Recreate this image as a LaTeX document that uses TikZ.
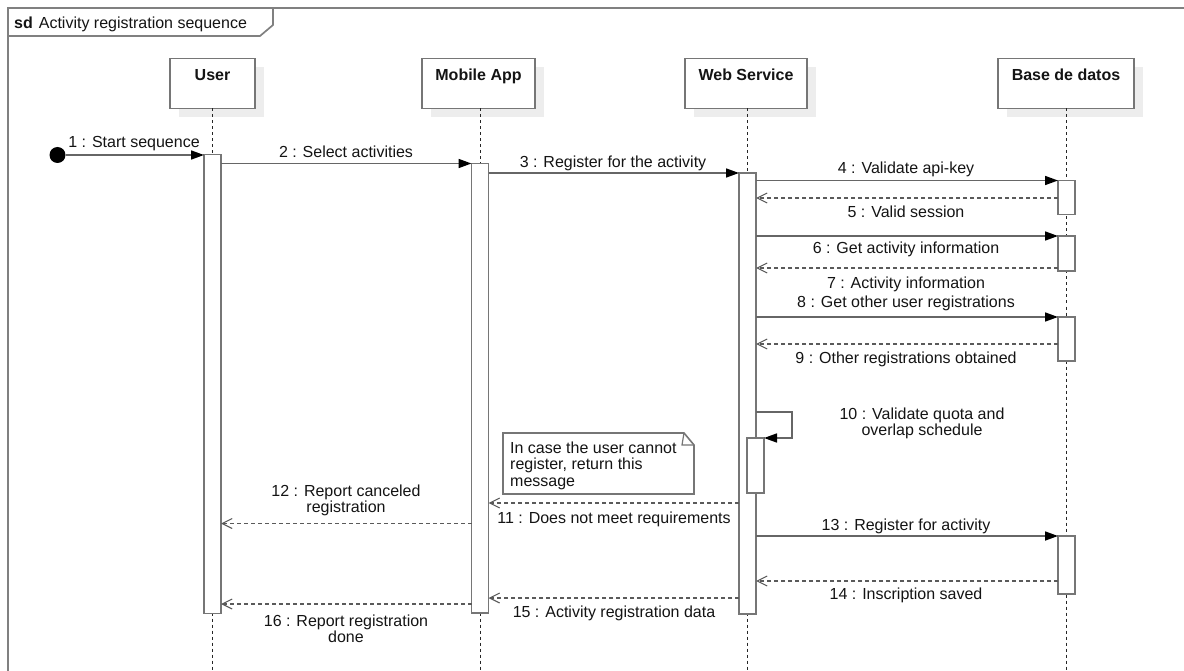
\documentclass[tikz,border=0pt]{standalone}
\usepackage{fontspec}
\setmainfont{Liberation Sans}
\usetikzlibrary{arrows.meta,shadows}
\definecolor{framegray}{HTML}{808080}
\definecolor{edgegray}{HTML}{767676}
\definecolor{wiregray}{HTML}{666666}
\definecolor{dashgray}{HTML}{5A5A5A}
\definecolor{ink}{HTML}{141414}
\definecolor{shade}{HTML}{EDEDED}
\newcommand{\lblfont}{\fontsize{16}{16.5}\selectfont}

\begin{document}
\begin{tikzpicture}[x=1pt,y=-1pt,
  head/.style={draw=edgegray, line width=1.9pt, fill=white, inner xsep=0pt, inner ysep=0pt,
    outer sep=0pt, text height=22.25pt, text depth=27.75pt, font=\lblfont\bfseries, text=ink,
    general shadow={fill=shade, draw=none, shadow xshift=9pt, shadow yshift=-9pt}},
  lifeline/.style={draw=black!85, line width=1pt, dash pattern=on 3pt off 3pt},
  act/.style={draw=edgegray, line width=1.9pt, fill=white, minimum width=17pt, inner sep=0pt,
    outer sep=0pt, anchor=north},
  call/.style={draw=wiregray, line width=1.7pt, -{Triangle[length=13pt,width=9pt,color=black]}},
  reply/.style={draw=dashgray, line width=1.5pt, dash pattern=on 4pt off 3pt,
    -{Straight Barb[length=10pt,width=10pt,line width=1.1pt]}},
  lbl/.style={anchor=north, inner sep=0pt, align=center, font=\lblfont, text=ink},
]
\useasboundingbox (0,0) rectangle (1184,671);
\fill[white] (0,0) rectangle (1184,671);

% diagram frame with its name tab
\draw[framegray, line width=2pt] (1184,8) -- (8,8) -- (8,671);
\draw[framegray, line width=1.7pt] (8,36) -- (260,36) -- (273,25) -- (273,8);
\node[anchor=north west, inner sep=0pt, font=\lblfont, text=ink] (title) at (14,17)
  {\textbf{sd}\hspace{6pt}Activity registration sequence};

% participants
\node[head, minimum width=85pt]  (user) at (212.5,83.5) {User};
\node[head, minimum width=113pt] (app)  at (478.5,83.5) {Mobile App};
\node[head, minimum width=122pt] (ws)   at (746,83.5)   {Web Service};
\node[head, minimum width=136pt] (db)   at (1066,83.5)  {Base de datos};

% lifelines
\draw[lifeline] (212.5,108.5) -- (212.5,671);
\draw[lifeline] (480,108.5) -- (480,671);
\draw[lifeline] (747.5,108.5) -- (747.5,671);
\draw[lifeline] (1066.5,108.5) -- (1066.5,671);

% activation bars
\node[act, minimum height=459pt]   (uAct)  at (212.5,154.5) {};
\node[act, minimum height=449.5pt] (mAct)  at (480,163.5) {};
\node[act, minimum height=441pt]   (wAct)  at (747.5,173) {};
\node[act, minimum height=55pt]    (wAct2) at (755.5,438) {};
\node[act, minimum height=34pt]    (dAct1) at (1066.5,180.5) {};
\node[act, minimum height=35pt]    (dAct2) at (1066.5,236) {};
\node[act, minimum height=44pt]    (dAct3) at (1066.5,317) {};
\node[act, minimum height=58pt]    (dAct4) at (1066.5,536) {};

% initial message
\node[circle, fill=black, minimum size=16pt, inner sep=0pt] (start) at (57.5,155) {};

% messages
\draw[call]  (start) -- (uAct.west |- start);
\draw[call]  (uAct.east |- 0,163.5) -- (mAct.west |- 0,163.5);
\draw[call]  (mAct.east |- 0,173) -- (wAct.west |- 0,173);
\draw[call]  (wAct.east |- dAct1.north) -- (dAct1.north west);
\draw[reply] (dAct1.west |- 0,198) -- (wAct.east |- 0,198);
\draw[call]  (wAct.east |- dAct2.north) -- (dAct2.north west);
\draw[reply] (dAct2.west |- 0,268) -- (wAct.east |- 0,268);
\draw[call]  (wAct.east |- dAct3.north) -- (dAct3.north west);
\draw[reply] (dAct3.west |- 0,344) -- (wAct.east |- 0,344);
\draw[call]  (wAct.east |- 0,412) -- ++(36,0) |- (wAct2.north east);
\draw[reply] (wAct.west |- 0,503) -- (mAct.east |- 0,503);
\draw[reply] (mAct.west |- 0,523.5) -- (uAct.east |- 0,523.5);
\draw[call]  (wAct.east |- dAct4.north) -- (dAct4.north west);
\draw[reply] (dAct4.west |- 0,581) -- (wAct.east |- 0,581);
\draw[reply] (wAct.west |- 0,598) -- (mAct.east |- 0,598);
\draw[reply] (mAct.west |- 0,604) -- (uAct.east |- 0,604);

% message labels
\node[lbl] (m1)  at (134,136.25) {1 : Start sequence};
\node[lbl] (m2)  at (346,145.25) {2 : Select activities};
\node[lbl] (m3)  at (613,155.25) {3 : Register for the activity};
\node[lbl] (m4)  at (906,161.25) {4 : Validate api-key};
\node[lbl] (m5)  at (906,205.25) {5 : Valid session};
\node[lbl] (m6)  at (906,241.25) {6 : Get activity information};
\node[lbl] (m7)  at (906,276.25) {7 : Activity information};
\node[lbl] (m8)  at (906,295.25) {8 : Get other user registrations};
\node[lbl] (m9)  at (906,351.25) {9 : Other registrations obtained};
\node[lbl] (m10) at (922,407.25) {10 : Validate quota and\\overlap schedule};
\node[lbl] (m11) at (614,511.25) {11 : Does not meet requirements};
\node[lbl] (m12) at (346,484.25) {12 : Report canceled\\registration};
\node[lbl] (m13) at (906,518.25) {13 : Register for activity};
\node[lbl] (m14) at (906,587.25) {14 : Inscription saved};
\node[lbl] (m15) at (614,605.25) {15 : Activity registration data};
\node[lbl] (m16) at (346,614.25) {16 : Report registration\\done};

% comment note
\draw[edgegray, line width=1.6pt, fill=white]
  (503,433) -- (684,433) -- (694,445) -- (694,494) -- (503,494) -- cycle;
\draw[edgegray, line width=1.2pt] (684,433) -- (682,445) -- (694,445);
\node[anchor=north west, inner sep=0pt, align=left, font=\lblfont, text=ink] (note) at (510,441.25)
  {In case the user cannot\\register, return this\\message};
\end{tikzpicture}
\end{document}
